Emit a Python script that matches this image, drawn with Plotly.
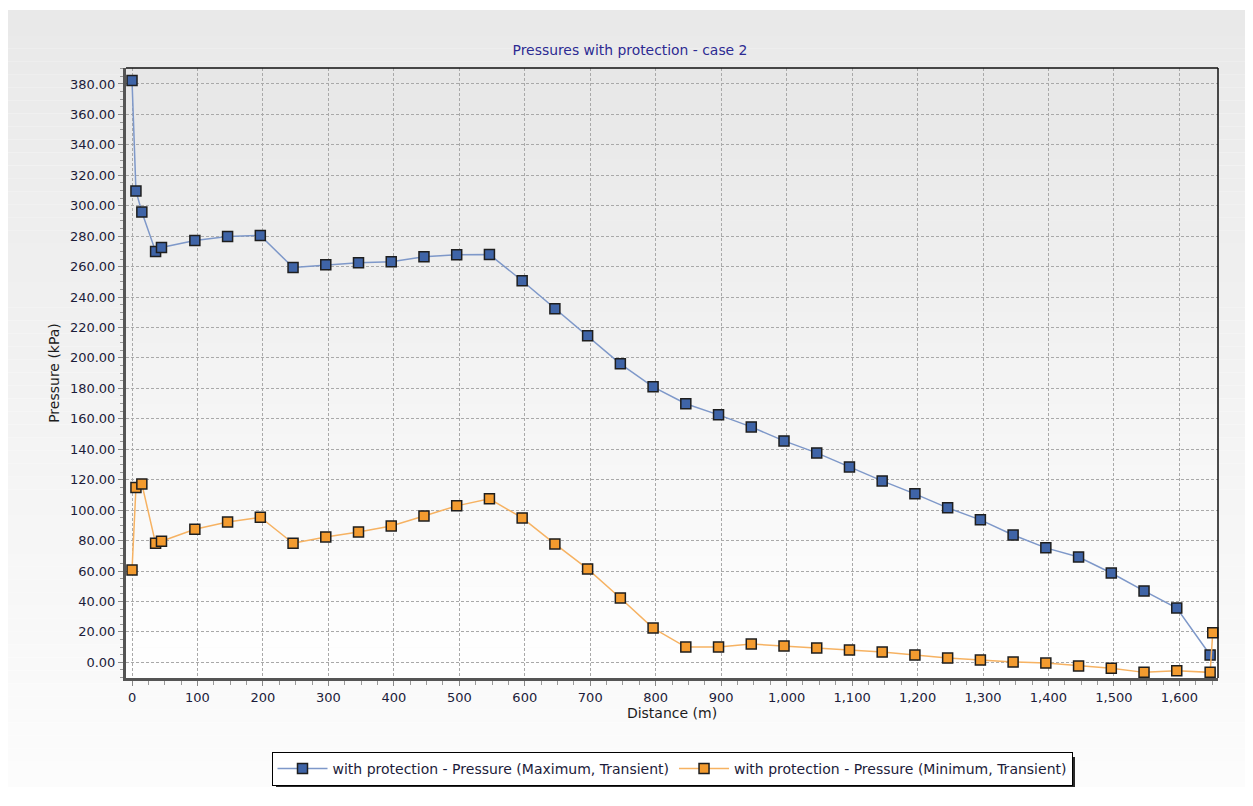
import plotly.graph_objects as go

# ---- data ----
distance_max = [0, 6, 15, 36, 45, 96, 146, 196, 246, 296, 346, 396, 446, 496, 546, 596,
                646, 696, 746, 796, 846, 896, 946, 996, 1046, 1096, 1146, 1196, 1246,
                1296, 1346, 1396, 1446, 1496, 1546, 1596, 1647]
pressure_max = [382.3, 309.7, 295.9, 270.0, 272.6, 277.2, 279.8, 280.5, 259.4, 261.2,
                262.6, 263.2, 266.5, 267.8, 268.0, 250.7, 232.3, 214.5, 196.1, 181.0,
                169.9, 162.6, 154.7, 145.5, 137.6, 128.4, 119.2, 110.7, 101.5, 93.6,
                83.7, 75.2, 69.2, 58.7, 46.9, 35.7, 4.8]
distance_min = [0, 6, 15, 36, 45, 96, 146, 196, 246, 296, 346, 396, 446, 496, 546, 596,
                646, 696, 746, 796, 846, 896, 946, 996, 1046, 1096, 1146, 1196, 1246,
                1296, 1346, 1396, 1446, 1496, 1546, 1596, 1647, 1651]
pressure_min = [60.7, 114.8, 117.2, 78.2, 79.5, 87.4, 92.2, 95.3, 78.2, 82.4, 85.7, 89.6,
                96.2, 102.8, 107.4, 94.9, 77.8, 61.4, 42.3, 22.5, 10.0, 10.0, 12.0, 10.7,
                9.4, 8.1, 6.8, 4.8, 2.8, 1.5, 0.2, -0.5, -2.4, -3.9, -6.6, -5.5, -6.6, 19.5]

series_names = ["with protection - Pressure (Maximum, Transient)",
                "with protection - Pressure (Minimum, Transient)"]
title_text = "Pressures with protection - case 2"
x_title = "Distance (m)"
y_title = "Pressure (kPa)"

FONT = "DejaVu Sans"
# figure sits at page offset (8, 8) because of the default body margin
W, H = 1245, 798
L, R, T, B = 118, 35, 60, 128
pw, ph = W - L - R, H - T - B


def px(x):  # figure pixel -> paper x
    return (x - L) / pw


def py(y):  # figure pixel (from top) -> paper y
    return (H - B - y) / ph


fig = go.Figure()
fig.add_trace(go.Scatter(
    x=distance_max, y=pressure_max, mode="lines+markers", name=series_names[0],
    line=dict(color="#7e98c9", width=1.5),
    marker=dict(symbol="square", size=10, color="#3f64a7",
                line=dict(color="#1e1e1e", width=1.5)),
    cliponaxis=False))
fig.add_trace(go.Scatter(
    x=distance_min, y=pressure_min, mode="lines+markers", name=series_names[1],
    line=dict(color="#f6b262", width=1.5),
    marker=dict(symbol="square", size=10, color="#f39b2f",
                line=dict(color="#1e1e1e", width=1.5)),
    cliponaxis=False))


def lerp(c1, c2, t):
    return "rgb(%d,%d,%d)" % tuple(round(a + (b - a) * t) for a, b in zip(c1, c2))


shapes = []
# card background gradient
card_top, card_bot = 2, 779
n = 60
for i in range(n):
    y0 = card_top + (card_bot - card_top) * i / n
    y1 = card_top + (card_bot - card_top) * (i + 1) / n
    shapes.append(dict(type="rect", xref="paper", yref="paper", x0=px(0), x1=px(W),
                       y0=py(y0), y1=py(y1), line=dict(width=0),
                       fillcolor=lerp((233, 233, 233), (252, 252, 252), i / (n - 1)),
                       layer="below"))
# plot area gradient
n = 40
for i in range(n):
    shapes.append(dict(type="rect", xref="paper", yref="paper", x0=0, x1=1,
                       y0=1 - i / n, y1=1 - (i + 1) / n, line=dict(width=0),
                       fillcolor=lerp((231, 231, 231), (255, 255, 255), i / (n - 1)),
                       layer="below"))
# top and right border lines
shapes.append(dict(type="line", xref="paper", yref="paper", x0=0, x1=1, y0=1, y1=1,
                   line=dict(color="#111111", width=1.5)))
shapes.append(dict(type="line", xref="paper", yref="paper", x0=1, x1=1, y0=0, y1=1,
                   line=dict(color="#111111", width=1.5)))
# legend shadow (legend box in figure pixels ~ 264..1064 x 745..776)
shapes.append(dict(type="rect", xref="paper", yref="paper",
                   x0=px(268), x1=px(1067), y0=py(779), y1=py(749),
                   line=dict(width=0), fillcolor="#2a2a2a", layer="below"))

fig.update_layout(
    width=W, height=H,
    margin=dict(l=L, r=R, t=T, b=B),
    paper_bgcolor="white", plot_bgcolor="rgba(0,0,0,0)",
    font=dict(family=FONT, size=13, color="#1c1c3a"),
    title=dict(text=title_text, x=622 / W, xanchor="center", y=1 - 42 / H, yanchor="middle",
               font=dict(family=FONT, size=13.9, color="#2d2a92")),
    shapes=shapes,
    showlegend=True,
    legend=dict(orientation="h", x=0.5, xanchor="center", y=py(744), yanchor="top",
                bgcolor="white", bordercolor="#000000", borderwidth=1,
                font=dict(family=FONT, size=14, color="#1c1c3a"),
                itemwidth=50, tracegroupgap=0),
)
fig.update_xaxes(
    range=[-9.2, 1659], tickmode="linear", tick0=0, dtick=100, tickformat=",d",
    showline=True, linecolor="#555555", linewidth=3, mirror=False,
    showgrid=True, gridcolor="#a9a9a9", gridwidth=1, griddash="3px,2px",
    ticks="outside", ticklen=5, tickcolor="#888888",
    minor=dict(dtick=25, ticks="outside", ticklen=4, tickcolor="#999999", showgrid=False),
    zeroline=False,
    title=dict(text=x_title, font=dict(family=FONT, size=14, color="#1c1c1c"), standoff=3),
    tickfont=dict(family=FONT, size=13, color="#1c1c3a"),
)
fig.update_yaxes(
    range=[-10.3, 390.5], tickmode="linear", tick0=0, dtick=20, tickformat=".2f",
    showline=True, linecolor="#555555", linewidth=3, mirror=False,
    showgrid=True, gridcolor="#a9a9a9", gridwidth=1, griddash="3px,2px",
    ticks="outside", ticklen=5, tickcolor="#888888",
    minor=dict(dtick=5, ticks="outside", ticklen=3, tickcolor="#999999", showgrid=False),
    zeroline=False,
    title=dict(text=y_title, font=dict(family=FONT, size=14, color="#1c1c1c"), standoff=8),
    tickfont=dict(family=FONT, size=13, color="#1c1c3a"),
)

fig.write_html("out.html")
